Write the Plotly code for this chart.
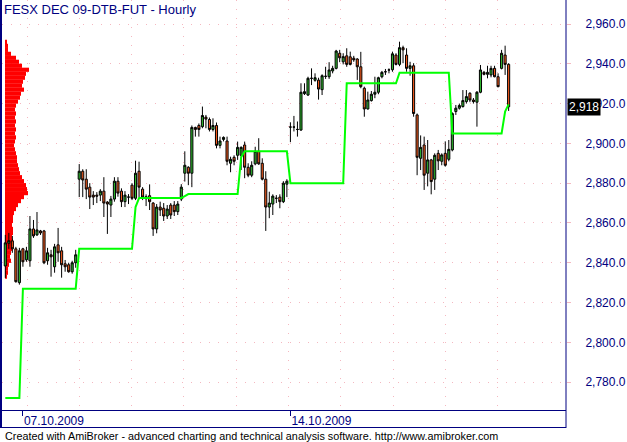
import plotly.graph_objects as go

# ---------------- data ----------------
open_ = [2838.4, 2849.8, 2851, 2847, 2830, 2847, 2841.5, 2841, 2857, 2854,
         2856, 2856, 2841, 2844, 2838, 2849, 2846, 2839.5, 2839, 2835.5,
         2840, 2882, 2886, 2882, 2878, 2874, 2874, 2874, 2876, 2870.5,
         2869, 2872, 2881, 2876, 2870.7, 2873, 2879, 2872.4, 2886, 2877,
         2872.2, 2873.7, 2870, 2857, 2868, 2867.4, 2863.5, 2869, 2869, 2865.7,
         2872, 2885, 2888, 2885, 2908, 2909, 2908.4, 2913.2, 2912, 2907,
         2909, 2899, 2902, 2901.2, 2890, 2893, 2894, 2894, 2899.2, 2888,
         2884, 2889.7, 2896, 2890, 2882, 2868, 2869.5, 2872.4, 2873, 2870.7,
         2879.5, 2908.2, 2908.2, 2907, 2906.7, 2925, 2924.3, 2932.7, 2931.7, 2931.8,
         2927, 2933.7, 2933.5, 2936.4, 2937.7, 2945.3, 2941, 2944, 2943.5, 2942.8,
         2942.4, 2938.5, 2927.7, 2917.3, 2921.5, 2924.7, 2925.7, 2933.5, 2936, 2936.9,
         2937, 2944.4, 2939.7, 2948.1, 2944.4, 2937.7, 2939, 2914.3, 2892.5, 2899.2,
         2885, 2891.7, 2882, 2895, 2891, 2895, 2892, 2896.7, 2916, 2917.7,
         2918.5, 2921, 2925.2, 2921.8, 2920.7, 2925.7, 2935.7, 2934.7, 2934.4, 2937.7,
         2933.5, 2937.7, 2944.4, 2939.7]
high = [2854, 2855, 2853.5, 2848, 2847.5, 2847.5, 2848, 2863.5, 2861.5, 2865.5,
        2856.5, 2856.5, 2847.5, 2846.5, 2849.5, 2857.5, 2848, 2841.4, 2840, 2841,
        2846.5, 2889.6, 2887, 2887, 2880, 2876, 2875.5, 2877, 2883, 2871,
        2873.6, 2883, 2883, 2877.4, 2876, 2874.5, 2880, 2891.3, 2890.8, 2878,
        2874.4, 2879.4, 2870.5, 2869.5, 2870.7, 2870, 2869, 2870, 2871, 2871,
        2879.5, 2896, 2888.5, 2909, 2908.4, 2910, 2918.5, 2914.3, 2913, 2912.6,
        2910.5, 2903.4, 2903.5, 2903.4, 2893.3, 2894, 2900.9, 2898.5, 2900.9, 2890,
        2891, 2898.3, 2902.6, 2892.5, 2886, 2875.7, 2874.4, 2874, 2874.4, 2881,
        2882, 2910.6, 2913.8, 2911, 2930.2, 2930.2, 2933.5, 2937.7, 2935.2, 2933,
        2934.7, 2938.5, 2940.8, 2939, 2947, 2947, 2945.3, 2947.8, 2946.1, 2944,
        2942.8, 2946, 2928.5, 2926, 2926.3, 2933.5, 2933.5, 2936.4, 2937.4, 2937.7,
        2946.1, 2945.3, 2951.1, 2949.1, 2947.8, 2941, 2940.3, 2915, 2904, 2903.4,
        2901.7, 2892.2, 2895, 2896.7, 2895, 2901, 2901.7, 2915.6, 2919.3, 2920,
        2926.8, 2926.8, 2925.7, 2922.8, 2926.3, 2939.4, 2936.4, 2939, 2939, 2939,
        2935.2, 2947, 2949.1, 2940.3]
low = [2832.4, 2847, 2845, 2830, 2829, 2838, 2840.5, 2838, 2852.5, 2853.5,
       2854, 2839.3, 2839, 2833, 2835, 2840.5, 2832.5, 2835.5, 2835, 2834.5,
       2837.5, 2873, 2873, 2872, 2867, 2869, 2870, 2871, 2863, 2854.5,
       2863, 2870.7, 2873.2, 2868, 2868, 2869.5, 2871.5, 2871.5, 2873, 2871.5,
       2868.5, 2866.5, 2853.5, 2854.8, 2863.5, 2861, 2862, 2862, 2863.5, 2864,
       2871, 2880.8, 2879, 2878, 2903.4, 2903.4, 2907.6, 2907.6, 2906, 2906,
       2897.5, 2897.5, 2901, 2889, 2885.5, 2889, 2891.7, 2886.6, 2882.5, 2883,
       2883, 2889, 2889.2, 2881.4, 2856, 2862.4, 2864, 2870, 2867.4, 2870,
       2873, 2900.6, 2906, 2903.4, 2906.3, 2924.3, 2923.8, 2929.3, 2931, 2922,
       2924.3, 2932.4, 2932.4, 2935.2, 2937.2, 2940.8, 2939.7, 2938.5, 2939.2, 2941,
       2931.9, 2927.7, 2913.4, 2917, 2921, 2922.7, 2924.7, 2932.7, 2934.4, 2935.2,
       2936, 2939.2, 2938.8, 2940.3, 2936, 2934, 2913.4, 2884, 2886.6, 2876.6,
       2878.4, 2874.4, 2876.6, 2886.6, 2889, 2888.3, 2891, 2896, 2914.3, 2917,
       2918, 2920, 2920.7, 2920, 2908.4, 2925.2, 2934.2, 2932.7, 2933.2, 2933.2,
       2928.2, 2937.2, 2934.4, 2916.3]
close = [2850, 2851.1, 2847, 2830.5, 2846, 2840.5, 2846, 2857, 2853.5, 2856.5,
         2855, 2840, 2845, 2843, 2848, 2845, 2839, 2838, 2835.5, 2840,
         2844, 2886, 2881.6, 2877, 2873, 2873, 2873.5, 2876, 2870, 2869.5,
         2872, 2881, 2875, 2870.7, 2874, 2873, 2872.4, 2885, 2878, 2873,
         2873.2, 2870.7, 2857, 2868, 2866.5, 2863.5, 2867, 2864, 2865.7, 2869.5,
         2878, 2889, 2885, 2908, 2907, 2907, 2914, 2912.2, 2907, 2909,
         2899, 2901.2, 2903, 2891, 2892, 2891, 2898, 2898, 2888, 2884,
         2889, 2896, 2889.7, 2882, 2868, 2870, 2873.5, 2872.4, 2870.7, 2880,
         2881, 2908.2, 2908.2, 2907, 2925.7, 2926, 2932.7, 2932.7, 2933, 2927.3,
         2934, 2933.7, 2936.9, 2937.7, 2946.4, 2943, 2943.6, 2939.7, 2939.7, 2942,
         2938.5, 2928.5, 2917.3, 2921.8, 2924.7, 2925.7, 2933, 2935.7, 2936, 2936.9,
         2945, 2939.7, 2948.1, 2947, 2937.7, 2939, 2915, 2893, 2898, 2884,
         2891.7, 2880.8, 2894, 2891.2, 2894.2, 2889, 2897, 2915, 2917.7, 2919,
         2921.5, 2923.5, 2921.8, 2921, 2925.7, 2936.9, 2934.7, 2935.7, 2937.7, 2933.5,
         2928.5, 2945.3, 2939.7, 2918.4]
stop_line = ([2772] * 5 + [2827] * 16 + [2847] * 16 + [2868] + [2872.5] * 13
             + [2873.5] + [2874.5] * 15 + [2893] + [2896] * 13 + [2880] * 16
             + [2930.2] * 15 + [2935.5] * 15 + [2905] * 15 + [2916, 2919.6])
profile_price = [2951, 2949, 2947, 2945, 2943, 2941, 2939, 2937, 2935, 2933,
                 2931, 2929, 2927, 2925, 2923, 2921, 2919, 2917, 2915, 2913,
                 2911, 2909, 2907, 2905, 2903, 2901, 2899, 2897, 2895, 2893,
                 2891, 2889, 2887, 2885, 2883, 2881, 2879, 2877, 2875, 2873,
                 2871, 2869, 2867, 2865, 2863, 2861, 2859, 2857, 2855, 2853,
                 2851, 2849, 2847, 2845, 2843, 2841, 2839, 2837, 2835, 2833]
profile_vol = [2, 3, 3, 6, 11, 14, 17, 24, 21, 20,
               18, 17, 19, 16, 15, 13, 11, 10, 11, 10,
               11, 10, 11, 10, 11, 10, 9, 10, 11, 12,
               12, 13, 14, 15, 17, 19, 21, 22, 23, 19,
               16, 13, 11, 9, 8, 8, 7, 8, 8, 7,
               8, 7, 7, 6, 5, 6, 4, 3, 3, 2]
price_ticks = [2780, 2800, 2820, 2840, 2860, 2880, 2900, 2920, 2940, 2960]
date_labels = ["07.10.2009", "14.10.2009"]
date_bar_index = [5, 81]
title_text = "FESX DEC 09-DTB-FUT - Hourly"
footer_text = ("Created with AmiBroker - advanced charting and technical analysis "
               "software. http://www.amibroker.com")

# ---------------- styling / layout ----------------
W, H = 627, 442
L, R, T, B = 2, 61, 0, 32
plot_w = W - L - R
plot_h = H - T - B
NAVY = "#000080"
PINK = "#f4b8c0"
FONT = "Liberation Sans"

def px_x(px):
    return (px - L) / plot_w

def px_y(py):
    return (H - B - py) / plot_h

bar_idx = list(range(len(close)))

fig = go.Figure()

# volume-at-price profile (base subplot, drawn beneath)
fig.add_trace(go.Bar(
    x=profile_vol, y=profile_price, orientation="h", width=2.1,
    marker=dict(color="#ff0000", line=dict(width=0)),
    xaxis="x", yaxis="y", hoverinfo="skip", showlegend=False))

# price candles
fig.add_trace(go.Candlestick(
    x=bar_idx, open=open_, high=high, low=low, close=close,
    increasing=dict(fillcolor="#2db52d", line=dict(color="black", width=1)),
    decreasing=dict(fillcolor="#f25a1e", line=dict(color="black", width=1)),
    whiskerwidth=0, xaxis="x2", yaxis="y", showlegend=False, hoverinfo="skip"))

# stepped green indicator line
fig.add_trace(go.Scatter(
    x=bar_idx, y=stop_line, mode="lines",
    line=dict(color="#00ff00", width=2),
    xaxis="x2", yaxis="y", showlegend=False, hoverinfo="skip"))

grid_x = [6.2 + 14.85 * k for k in range(10)]

fig.update_layout(
    width=W, height=H,
    margin=dict(l=L, r=R, t=T, b=B, pad=0, autoexpand=False),
    paper_bgcolor="white", plot_bgcolor="white",
    boxgap=0.15,
    showlegend=False,
    font=dict(family=FONT, size=12, color=NAVY),
    xaxis=dict(range=[-3, plot_w - 3], visible=False, showgrid=False,
               zeroline=False, fixedrange=True, automargin=False,
               rangeslider=dict(visible=False)),
    xaxis2=dict(overlaying="x", anchor="y", side="bottom", automargin=False,
                range=[-0.94, 159.3], showgrid=False, zeroline=False,
                tickmode="array", tickvals=date_bar_index, ticktext=date_labels,
                ticks="outside", ticklen=5, tickcolor=NAVY, tickwidth=1,
                ticklabelposition="outside right",
                tickfont=dict(family=FONT, size=12, color=NAVY),
                showline=True, linecolor=NAVY, linewidth=1,
                minor=dict(tickmode="array", tickvals=grid_x, showgrid=True,
                           gridcolor=PINK, griddash="1px,8px", gridwidth=1, ticks=""),
                rangeslider=dict(visible=False)),
    yaxis=dict(side="right", range=[2766, 2972.06], automargin=False,
               tickmode="array", tickvals=price_ticks, tickformat=",.1f",
               ticks="outside", ticklen=4, tickcolor=PINK, tickwidth=1,
               ticklabelstandoff=12,
               tickfont=dict(family=FONT, size=12, color=NAVY),
               showgrid=True, gridcolor=PINK, griddash="1px,8px", gridwidth=1,
               zeroline=False, showline=False),
)

# frame lines
frame = dict(color=NAVY, width=1)
fig.add_shape(type="line", xref="paper", yref="paper",
              x0=px_x(1), x1=px_x(1), y0=px_y(428), y1=1,
              line=dict(color=NAVY, width=2), layer="above")
fig.add_shape(type="line", xref="paper", yref="paper",
              x0=px_x(566), x1=px_x(566), y0=px_y(428), y1=1,
              line=frame, layer="above")
fig.add_shape(type="line", xref="paper", yref="paper",
              x0=px_x(0), x1=px_x(566), y0=px_y(427.5), y1=px_y(427.5),
              line=frame, layer="above")

# title
fig.add_annotation(text=title_text, xref="paper", yref="paper",
                   x=px_x(2), y=1, xanchor="left", yanchor="top",
                   showarrow=False, font=dict(family=FONT, size=13, color=NAVY))
# footer
fig.add_annotation(text=footer_text, xref="paper", yref="paper",
                   x=px_x(3), y=px_y(436), xanchor="left", yanchor="middle",
                   showarrow=False, font=dict(family=FONT, size=10.8, color="black"))
# last price marker
fig.add_annotation(text=f"{close[-1]:,.0f}", xref="paper", yref="y",
                   x=1, y=close[-1], xanchor="left", yanchor="middle", xshift=1,
                   showarrow=False, bgcolor="black", borderpad=1,
                   font=dict(family=FONT, size=12, color="white"))

fig.write_html("out.html", config={"displayModeBar": False},
               post_script="document.body.style.margin='0';")
